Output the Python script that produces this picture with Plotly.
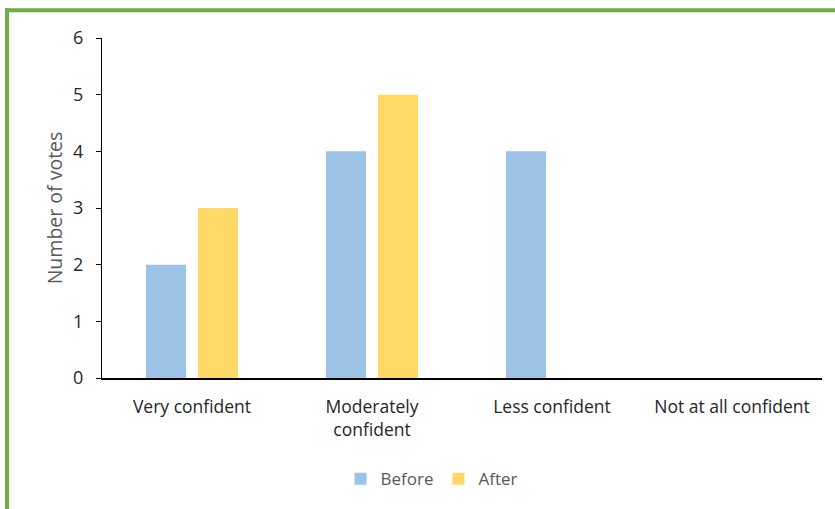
import plotly.graph_objects as go

categories = ["Very confident", "Moderately<br>confident", "Less confident", "Not at all confident"]
before_votes = [2, 4, 4, 0]
after_votes = [3, 5, 0, 0]
y_ticks = [0, 1, 2, 3, 4, 5, 6]

FONT = "Open Sans"
W, H = 835, 509
L, R, T, B = 102, 13, 38, 128
pw, ph = W - L - R, H - T - B


def px_x(p):
    return (p - L) / pw


def px_y(p):
    return (H - B - p) / ph


fig = go.Figure()
fig.add_trace(go.Bar(name="Before", x=categories, y=before_votes,
                     marker=dict(color="#9DC3E6", line=dict(width=0))))
fig.add_trace(go.Bar(name="After", x=categories, y=after_votes,
                     marker=dict(color="#FFD966", line=dict(width=0))))

green = "#70AD47"
fig.add_shape(type="line", xref="paper", yref="paper",
              x0=px_x(7), x1=px_x(7), y0=px_y(8), y1=px_y(515),
              line=dict(color=green, width=4))
fig.add_shape(type="line", xref="paper", yref="paper",
              x0=px_x(5), x1=px_x(840), y0=px_y(10), y1=px_y(10),
              line=dict(color=green, width=4))

fig.update_layout(
    width=W, height=H,
    margin=dict(l=L, r=R, t=T, b=B, pad=0),
    paper_bgcolor="white", plot_bgcolor="white",
    barmode="group", bargap=0.422, bargroupgap=0.23,
    font=dict(family=FONT, size=18, color="#404040"),
    showlegend=True,
    legend=dict(orientation="h", x=px_x(432), xanchor="center",
                y=px_y(483), yanchor="middle",
                font=dict(family=FONT, size=17, color="#595959"),
                itemwidth=30, traceorder="normal"),
    xaxis=dict(showgrid=False, showline=True, linecolor="#000000", linewidth=1.5,
               ticks="", ticklabelstandoff=12,
               tickfont=dict(family=FONT, size=17.5, color="#262626"),
               fixedrange=True),
    yaxis=dict(range=[0, 6], tickvals=y_ticks, showgrid=False, zeroline=False,
               showline=True, linecolor="#000000", linewidth=1,
               ticks="outside", ticklen=5, tickcolor="#000000",
               ticklabelstandoff=9,
               tickfont=dict(family=FONT, size=18, color="#262626"),
               title=dict(text="Number of votes", standoff=5,
                          font=dict(family=FONT, size=19.5, color="#595959"))),
)

fig.write_html("out.html")
